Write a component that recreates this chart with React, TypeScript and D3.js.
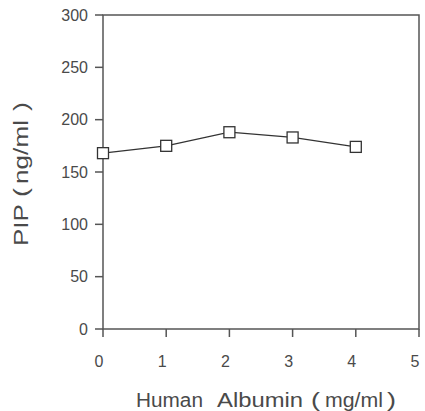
import React from "react";
import * as d3 from "d3";

const albumin = [0, 1, 2, 3, 4];
const pip = [168, 175, 188, 183, 174];
const xTicks = [0, 1, 2, 3, 4, 5];
const yTicks = [0, 50, 100, 150, 200, 250, 300];
const xTitleParts = ["Human", "Albumin", "(", "mg/ml", ")"];
const yTitleParts = ["PIP", "(", "ng/ml", ")"];

export default function App() {
  const W = 425, H = 411;
  const left = 103, right = 419, top = 15, bottom = 329;
  const x = d3.scaleLinear().domain([0, 5]).range([left, right]);
  const y = d3.scaleLinear().domain([0, 300]).range([bottom, top]);
  const line = d3.line<number>().x((_, i) => x(albumin[i])).y((d) => y(d));
  const font = "'Liberation Sans', Arial, sans-serif";
  const axisColor = "#555";
  const textColor = "#4a4a4a";
  const s = 11;
  const xParts: [number, number][] = [[136, 67], [217, 86], [311, 9], [325, 58], [387, 9]];
  const yParts: [number, number][] = [[-246, 42], [-197, 9], [-184, 64], [-111, 9]];
  return (
    <svg width={W} height={H} style={{ position: "absolute", left: 0, top: 0 }} fontFamily={font}>
      <rect x={0} y={0} width={W} height={H} fill="#fff" />
      <rect x={left} y={top} width={right - left} height={bottom - top} fill="none" stroke={axisColor} strokeWidth={1.5} />
      {yTicks.map((t) => (
        <g key={"y" + t}>
          <line x1={left - 8} x2={left} y1={y(t)} y2={y(t)} stroke={axisColor} strokeWidth={1.5} />
          <text x={left - 15} y={y(t)} dy="0.36em" textAnchor="end" fontSize={16} fill={textColor}>{t}</text>
        </g>
      ))}
      {xTicks.map((t) => (
        <g key={"x" + t}>
          <line x1={x(t)} x2={x(t)} y1={bottom} y2={bottom + 8} stroke={axisColor} strokeWidth={1.5} />
          <text x={x(t) - 4} y={bottom + 38} textAnchor="middle" fontSize={16} fill={textColor}>{t}</text>
        </g>
      ))}
      <path d={line(pip) || ""} fill="none" stroke="#333" strokeWidth={1.2} />
      {pip.map((v, i) => (
        <rect key={"m" + i} x={x(albumin[i]) - s / 2} y={y(v) - s / 2} width={s} height={s} fill="#fff" stroke="#333" strokeWidth={1.3} />
      ))}
      {xTitleParts.map((w, i) => (
        <text key={"xt" + i} x={xParts[i][0]} y={407} fontSize={20} fill={textColor} textLength={xParts[i][1]} lengthAdjust="spacingAndGlyphs">{w}</text>
      ))}
      <g transform="translate(28,0) rotate(-90)">
        {yTitleParts.map((w, i) => (
          <text key={"yt" + i} x={yParts[i][0]} y={0} fontSize={20} fill={textColor} textLength={yParts[i][1]} lengthAdjust="spacingAndGlyphs">{w}</text>
        ))}
      </g>
    </svg>
  );
}
